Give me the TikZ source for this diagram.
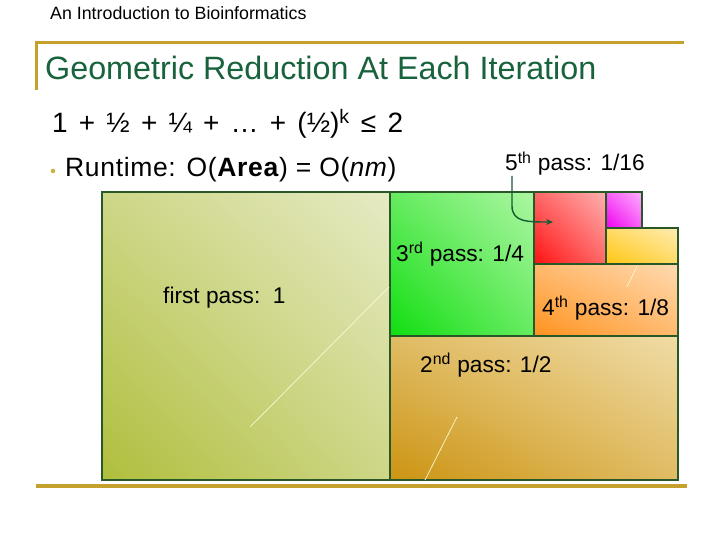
\documentclass[tikz,border=0pt]{standalone}
\usepackage{fontspec}
\setmainfont{Liberation Sans}
\usetikzlibrary{arrows.meta,positioning,shadings}
\definecolor{bar_gold}{RGB}{198, 160, 44}
\definecolor{dot_gold}{RGB}{200, 176, 60}
\definecolor{title_green}{RGB}{24, 98, 60}
\definecolor{box_line}{RGB}{40, 88, 40}
\definecolor{arrow_green}{RGB}{22, 92, 50}
\definecolor{streak_c}{RGB}{250, 248, 210}
\definecolor{one_lo}{RGB}{176, 190, 60}
\definecolor{one_hi}{RGB}{230, 234, 196}
\definecolor{two_lo}{RGB}{204, 148, 18}
\definecolor{two_hi}{RGB}{240, 220, 166}
\definecolor{three_lo}{RGB}{16, 222, 16}
\definecolor{three_hi}{RGB}{172, 246, 162}
\definecolor{four_lo}{RGB}{255, 146, 30}
\definecolor{four_hi}{RGB}{255, 218, 176}
\definecolor{five_lo}{RGB}{255, 16, 16}
\definecolor{five_hi}{RGB}{255, 176, 176}
\definecolor{six_lo}{RGB}{238, 0, 238}
\definecolor{six_hi}{RGB}{255, 176, 255}
\definecolor{seven_lo}{RGB}{255, 198, 16}
\definecolor{seven_hi}{RGB}{255, 236, 176}
\tikzset{pass/.style 2 args={shade,draw=box_line,line width=1.1pt,inner sep=0pt,
  outer sep=0pt,anchor=north west,lower left=#1,upper right=#2,
  upper left=#1!45!#2,lower right=#1!45!#2}}
\tikzset{lbl/.style={anchor=base west,inner sep=0pt,font=\fontsize{22.7}{26}\selectfont}}
\tikzset{streak/.style={draw=streak_c,line width=0.7pt}}
\tikzset{pointer/.style={draw=arrow_green,line width=1.4pt,
  -{Stealth[length=7pt,width=6pt]}}}
\newcommand{\gap}{\hspace{0.4em}}

\begin{document}
\begin{tikzpicture}[x=1pt,y=-1pt]
    \useasboundingbox [fill=white] (0,0) rectangle (720,540);
    % header and title
    \node [anchor=base west,inner sep=0pt,font=\fontsize{17.8}{20}\selectfont] (head) at (50,20) {An Introduction to Bioinformatics};
    \draw [bar_gold,line width=3pt] (35,42.5) -- (684,42.5);
    \draw [bar_gold,line width=2.5pt] (36.5,41) -- (36.5,90);
    \draw [bar_gold,line width=3.5pt] (36,486) -- (687,486);
    \node [anchor=base west,inner sep=0pt,text=title_green,font=\fontsize{32.3}{36}\selectfont] (title) at (45,80) {Geometric Reduction At Each Iteration};
    \node [anchor=base west,inner sep=0pt,font=\fontsize{28}{32}\selectfont] (sum) at (52,133) {1\gap+\gap½\gap+\gap¼\gap+\gap…\gap+\gap(½)\textsuperscript{k}\gap≤\gap2};
    \node [circle,fill=dot_gold,inner sep=1.6pt] (dot) at (53,171) {};
    \node [anchor=base west,inner sep=0pt,font=\fontsize{26.5}{30}\selectfont\addfontfeature{LetterSpace=2.5}] (runtime) at (65,177) {Runtime: O(\textbf{Area}) = O(\textit{nm})};
    % the passes
    \node [pass={one_lo}{one_hi},minimum width=288pt,minimum height=288pt] (first) at (102,192) {};
    \node [pass={two_lo}{two_hi},minimum width=288pt,minimum height=144pt] (second) at (390,336) {};
    \node [pass={three_lo}{three_hi},minimum width=144pt,minimum height=144pt] (third) at (390,192) {};
    \node [pass={four_lo}{four_hi},minimum width=144pt,minimum height=72pt] (fourth) at (534,264) {};
    \node [pass={five_lo}{five_hi},minimum width=72pt,minimum height=72pt] (fifth) at (534,192) {};
    \node [pass={six_lo}{six_hi},minimum width=36pt,minimum height=36pt] (sixth) at (606,192) {};
    \node [pass={seven_lo}{seven_hi},minimum width=72pt,minimum height=36pt] (seventh) at (606,228) {};
    \draw [streak] (250,427) -- (389,287);
    \draw [streak] (425,480) -- (457,417);
    \draw [streak] (627,287) -- (637,266);
    % labels
    \node [lbl] (lfirst) at (163,303) {first pass:\ \ 1};
    \node [lbl] (lsecond) at (420,372) {2\textsuperscript{nd} pass: 1/2};
    \node [lbl] (lthird) at (396,261) {3\textsuperscript{rd} pass: 1/4};
    \node [lbl] (lfourth) at (542,315) {4\textsuperscript{th} pass: 1/8};
    \node [lbl] (lfifth) at (505,171) {5\textsuperscript{th} pass: 1/16};
    \coordinate (tip) at (553,222);
    \draw [pointer] ([xshift=7pt]lfifth.south west) -- ++(0,30) .. controls +(0,16) and +(-26,0) .. (tip);
\end{tikzpicture}
\end{document}
